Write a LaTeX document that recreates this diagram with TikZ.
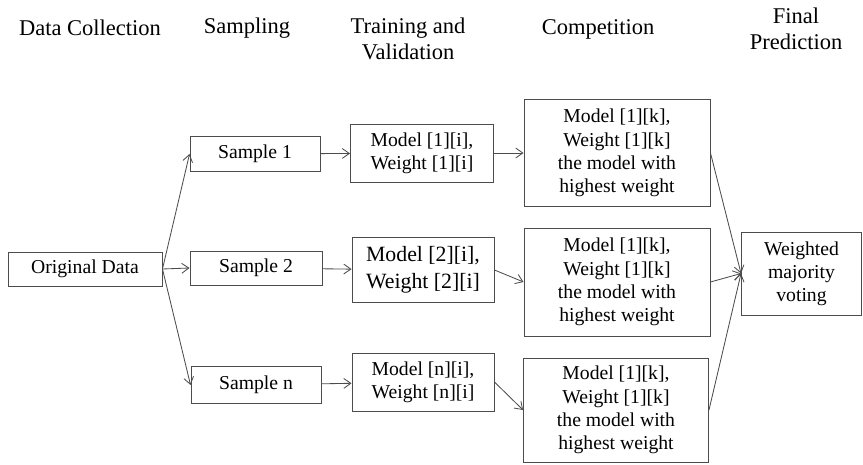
\documentclass[tikz,border=0pt]{standalone}
\usepackage{fontspec}
\setmainfont{Liberation Serif}
\usetikzlibrary{arrows.meta}

\begin{document}
\begin{tikzpicture}[x=0.025cm,y=-0.025cm,
  box/.style={draw=black!70,line width=0.65pt,align=center,inner sep=1pt,
    font=\fontsize{14}{16.5}\selectfont},
  head/.style={align=center,font=\fontsize{16}{18.5}\selectfont},
  link/.style={draw=black!70,line width=0.6pt,-{Straight Barb[length=5pt,width=7pt]}}]
\useasboundingbox (0,0) rectangle (863,465);

% column titles
\node[head] (tcoll) at (90,28) {Data Collection};
\node[head] (tsamp) at (247,28) {Sampling};
\node[head] (ttrain) at (408,39) {Training and\\Validation};
\node[head] (tcomp) at (598,29) {Competition};
\node[head] (tfinal) at (796,29) {Final\\Prediction};

% data and samples
\node[box,minimum width=3.85cm,minimum height=0.85cm] (orig) at (85,269) {Original Data};
\node[box,minimum width=3.25cm,minimum height=0.875cm] (samp1) at (255,154) {Sample 1};
\node[box,minimum width=3.3cm,minimum height=0.85cm] (samp2) at (256,268) {Sample 2};
\node[box,minimum width=3.25cm,minimum height=0.925cm] (sampn) at (256,385) {Sample n};

% trained models
\node[box,minimum width=3.575cm,minimum height=1.45cm] (mod1) at (422,153) {Model [1][i],\\Weight [1][i]};
\node[box,minimum width=3.55cm,minimum height=1.625cm,
  font=\fontsize{15.5}{19}\selectfont] (mod2) at (423,270) {Model [2][i],\\Weight [2][i]};
\node[box,minimum width=3.55cm,minimum height=1.45cm] (modn) at (423,382) {Model [n][i],\\Weight [n][i]};

% competition
\node[box,minimum width=4.65cm,minimum height=2.675cm] (comp1) at (617,153)
  {Model [1][k],\\Weight [1][k]\\the model with\\highest weight};
\node[box,minimum width=4.65cm,minimum height=2.7cm] (comp2) at (617,282)
  {Model [1][k],\\Weight [1][k]\\the model with\\highest weight};
\node[box,minimum width=4.625cm,minimum height=2.6cm] (compn) at (616,410)
  {Model [1][k],\\Weight [1][k]\\the model with\\highest weight};

% final prediction
\node[box,minimum width=3.0cm,minimum height=2.075cm] (final) at (801.5,273.5)
  {Weighted\\majority\\voting};

\draw[link] (orig.east) -- (samp1.west);
\draw[link] (orig.east) -- (samp2.west);
\draw[link] (orig.east) -- (sampn.west);

\draw[link] (samp1) -- (mod1);
\draw[link] (samp2) -- (mod2);
\draw[link] (sampn) -- (modn);

\draw[link] (mod1.east) -- (comp1.west);
\draw[link] (mod2.east) -- (comp2.west);
\draw[link] (modn.east) -- (compn.west);

\draw[link] (comp1.east) -- (final.west);
\draw[link] (comp2.east) -- (final.west);
\draw[link] (compn.east) -- (final.west);

\end{tikzpicture}
\end{document}
